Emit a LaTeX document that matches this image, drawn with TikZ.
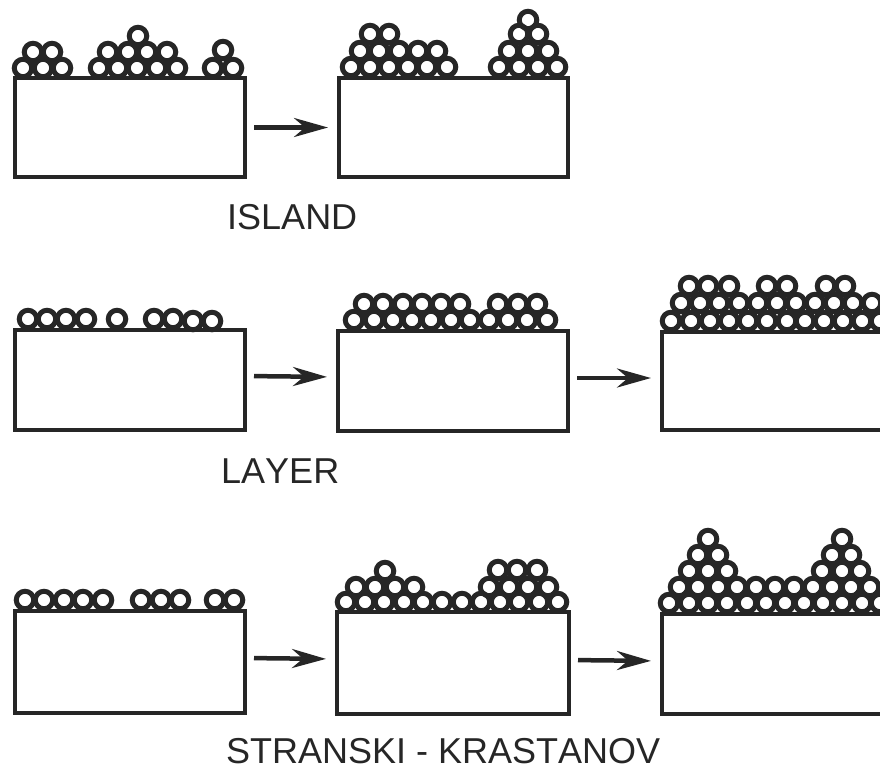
\documentclass[tikz,border=0pt]{standalone}
\usepackage{fontspec}
\setmainfont[Kerning=Off]{Liberation Sans}
\usetikzlibrary{arrows.meta}
\tikzset{
  atom/.style={circle,draw=black!85,line width=5pt,inner sep=0pt,minimum size=17.5pt},
  slab/.style={draw=black!85,line width=3.6pt,fill=white,inner sep=0pt,outer sep=0pt,anchor=north west},
  flow/.style={-{Stealth[length=34pt,width=19pt,inset=11pt]},black!85,line width=4.5pt,shorten >=11pt,shorten <=9pt},
  growth/.style={font=\fontsize{36}{36}\selectfont,text=black!85,anchor=base west,inner sep=0pt}
}
% one line of atoms at height #1
\newcommand{\atomrow}[2]{\foreach \x in {#2} \node[atom] (a\x-#1) at (\x,#1) {};}
\begin{document}
\begin{tikzpicture}[x=1pt,y=-1pt]
  \clip (0,0) rectangle (880,769);
  % substrates
  \node[slab,minimum width=230pt,minimum height=99pt] (s1) at (15,78) {};
  \node[slab,minimum width=229pt,minimum height=99pt] (s2) at (339,78) {};
  \node[slab,minimum width=230pt,minimum height=100pt] (l1) at (15,330) {};
  \node[slab,minimum width=230pt,minimum height=100pt] (l2) at (338,331) {};
  \node[slab,minimum width=240pt,minimum height=98pt] (l3) at (662,332) {};
  \node[slab,minimum width=230pt,minimum height=102pt] (k1) at (15,611) {};
  \node[slab,minimum width=232pt,minimum height=102pt] (k2) at (337,612) {};
  \node[slab,minimum width=240pt,minimum height=100pt] (k3) at (662,614) {};
  % island growth
  \atomrow{68}{23,43,62,99,118,137,157,177,213,233}
  \atomrow{52}{33,52,108,128,147,167}
  \atomrow{50}{223}
  \atomrow{36}{138}
  \atomrow{67}{351,370,389,408,427,447,499,519,538,557}
  \atomrow{51}{360,379,399,418,437,509,528,548}
  \atomrow{34}{370,389,519,538}
  \atomrow{20}{528}
  % layer growth
  \atomrow{319}{28,47,66,86,117,154,173}
  \atomrow{321}{193,212}
  \atomrow{320}{354,374,393,412,431,451,470,489,508,527,547}
  \atomrow{304}{364,383,403,422,441,460,498,518,537}
  \atomrow{321}{671,691,710,729,748,767,787,805,824,843,862,880}
  \atomrow{303}{681,700,719,739,758,777,796,815,834,853,872}
  \atomrow{286}{689,708,729,767,787,826,845}
  % Stranski-Krastanov growth
  \atomrow{600}{25,44,64,83,103,141,161,180,215,234}
  \atomrow{602}{346,365,384,404,423,442,462,481,500,519,539,558}
  \atomrow{587}{356,375,395,414,489,509,528,548}
  \atomrow{571}{385}
  \atomrow{570}{498,517,537}
  \atomrow{603}{669,689,708,727,747,766,785,804,823,842,862,880}
  \atomrow{587}{679,698,718,737,756,775,794,813,832,851,870}
  \atomrow{571}{689,708,727,822,842,860}
  \atomrow{555}{698,718,832,851}
  \atomrow{539}{708,842}
  % arrows between the stages
  \draw[flow] (s1) -- (s2);
  \draw[flow] ([yshift=4pt]l1.east) -- ([yshift=4pt]l2.west);
  \draw[flow] ([yshift=3pt]l2.east) -- ([yshift=3pt]l3.west);
  \draw[flow] ([yshift=4pt]k1.east) -- ([yshift=4pt]k2.west);
  \draw[flow] ([yshift=3pt]k2.east) -- ([yshift=3pt]k3.west);
  % captions
  \node[growth] (island) at (227,229) {ISLAND};
  \node[growth] (layer) at (221,483) {LAYER};
  \node[growth] (sk) at (226,763) {STRANSKI - KRASTANOV};
\end{tikzpicture}
\end{document}
